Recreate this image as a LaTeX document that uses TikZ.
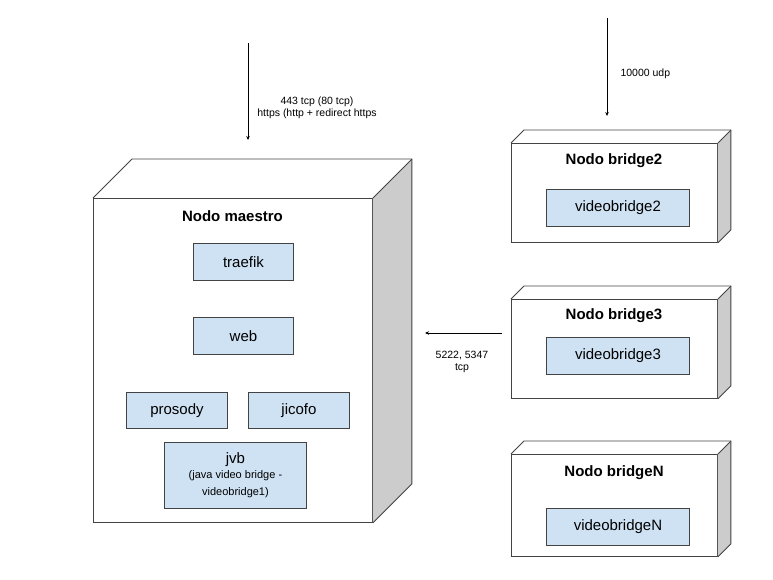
\documentclass[tikz,border=0pt]{standalone}
\usepackage{fontspec}
\setmainfont{Liberation Sans}
\usetikzlibrary{arrows.meta}
\definecolor{edge}{HTML}{434343}
\definecolor{sidegray}{HTML}{CCCCCC}
\definecolor{blu}{HTML}{CFE2F3}
\tikzset{
  front/.style={draw=edge, fill=white, line width=0.9pt, inner sep=0pt, anchor=north west},
  svc/.style={draw=edge, fill=blu, line width=0.9pt, inner sep=0pt, anchor=north west,
    font=\fontsize{15}{17}\selectfont, align=center},
  title/.style={font=\bfseries\fontsize{15}{17}\selectfont},
  lbl/.style={font=\fontsize{10.5}{12}\selectfont, align=center},
  conn/.style={draw=black, line width=0.8pt, -{Stealth[length=4pt,width=3.5pt]}},
  depthline/.style={draw=edge, line width=0.9pt, line join=round},
}
\newcommand\nodedepth[2]{%
  \fill[sidegray] (#1.north east) -- ([shift={(#2,-#2)}]#1.north east)
     -- ([shift={(#2,-#2)}]#1.south east) -- (#1.south east) -- cycle;
  \draw[depthline] (#1.north west) -- ([shift={(#2,-#2)}]#1.north west)
     -- ([shift={(#2,-#2)}]#1.north east) -- ([shift={(#2,-#2)}]#1.south east)
     -- (#1.south east);
  \draw[depthline] (#1.north east) -- ([shift={(#2,-#2)}]#1.north east);
}
\begin{document}
\begin{tikzpicture}[x=1pt,y=-1pt]
\useasboundingbox (0,0) rectangle (773,580);

% main node
\node[front, minimum width=279pt, minimum height=324pt] (maestro) at (93,198) {};
\nodedepth{maestro}{39}
\node[title] (tmaestro) at (232.5,216) {Nodo maestro};
\node[svc, minimum width=100pt, minimum height=37pt] (traefik) at (193,243) {traefik};
\node[svc, minimum width=100pt, minimum height=37pt] (web) at (193,317) {web};
\node[svc, minimum width=101pt, minimum height=36pt] (prosody) at (126,392) {prosody};
\node[svc, minimum width=101pt, minimum height=36pt] (jicofo) at (248,392) {jicofo};
\node[svc, minimum width=142pt, minimum height=66pt] (jvb) at (164,442)
  {jvb\\[-2pt]{\fontsize{11}{12.5}\selectfont (java video bridge -}\\{\fontsize{11}{12.5}\selectfont videobridge1)}};

% bridge 2
\node[front, minimum width=206pt, minimum height=99pt] (b2) at (511,143) {};
\nodedepth{b2}{13}
\node[title] (tb2) at (614,161) {Nodo bridge2};
\node[svc, minimum width=143pt, minimum height=37pt] (vb2) at (546,189) {videobridge2};

% bridge 3
\node[front, minimum width=206pt, minimum height=99pt] (b3) at (511,299) {};
\nodedepth{b3}{13}
\node[title] (tb3) at (614,316) {Nodo bridge3};
\node[svc, minimum width=143pt, minimum height=37pt] (vb3) at (546,337) {videobridge3};

% bridge N
\node[front, minimum width=206pt, minimum height=102pt] (bN) at (511,454) {};
\nodedepth{bN}{13}
\node[title] (tbN) at (614,473) {Nodo bridgeN};
\node[svc, minimum width=143pt, minimum height=37pt] (vbN) at (546,508) {videobridgeN};

% connectors
\coordinate (a1s) at (248,43);
\coordinate (a1e) at (248,140);
\draw[conn] (a1s) -- (a1e);
\node[lbl] (l1) at (317,107.5) {443 tcp (80 tcp)\\https (http + redirect https};

\coordinate (a2s) at (607,18);
\coordinate (a2e) at (607,116);
\draw[conn] (a2s) -- (a2e);
\node[lbl, anchor=west] (l2) at (617,74) {10000 udp};

\coordinate (a3s) at (502,333);
\coordinate (a3e) at (425,333);
\draw[conn] (a3s) -- (a3e);
\node[lbl] (l3) at (462,362) {5222, 5347\\tcp};
\end{tikzpicture}
\end{document}
